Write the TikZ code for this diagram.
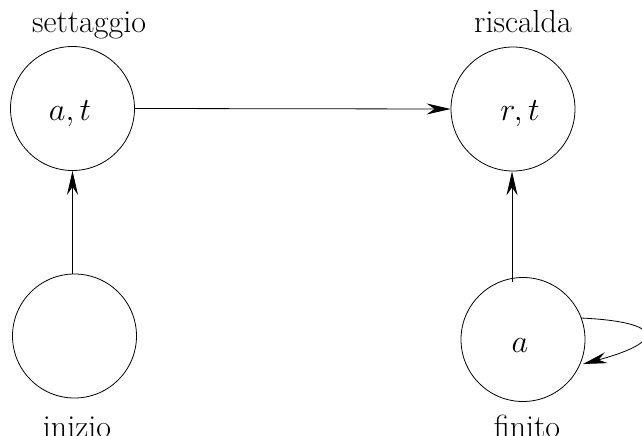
\documentclass[tikz,border=0pt]{standalone}
\usepackage{graphicx}
\usetikzlibrary{arrows.meta}
\newcommand{\statemath}[1]{\scalebox{1.3}{\fontsize{24.88}{30}\selectfont$#1$}}
\begin{document}
\begin{tikzpicture}[x=1pt,y=-1pt,
  state/.style={draw,circle,minimum size=124pt,inner sep=0pt,line width=0.8pt},
  lbl/.style={font=\fontsize{32}{38}\selectfont,anchor=base},
  arr/.style={line width=0.8pt,-{Stealth[length=24pt,width=11pt,inset=8pt]}}]
\useasboundingbox (0,0) rectangle (642,436);
\node[state] (sett) at (72.5,108.5) {};
\node[state] (ris) at (513,109) {};
\node[state] (ini) at (74.5,336) {};
\node[state] (fin) at (523,339.5) {};
\node[lbl] (tsett) at (70,120) {\statemath{a,t}};
\node[lbl] (tris) at (520,120) {\statemath{r,t}};
\node[lbl] (tfin) at (520,352) {\statemath{a}};
\node[lbl] (lsett) at (89,33) {settaggio};
\node[lbl] (lris) at (523,33) {riscalda};
\node[lbl] (lini) at (77,437) {inizio};
\node[lbl] (lfin) at (527,437) {finito};
\coordinate (fs) at (512,282);
\draw[arr] (sett.east) -- (ris.west);
\draw[arr] (ini.north -| sett.south) -- (sett.south);
\draw[arr] (fs) -- (ris.south -| fs);
\coordinate (ls) at (581,318);
\coordinate (le) at (583,364);
\draw[arr] (ls) .. controls (665,322) and (665,342) .. (le);
\end{tikzpicture}
\end{document}
